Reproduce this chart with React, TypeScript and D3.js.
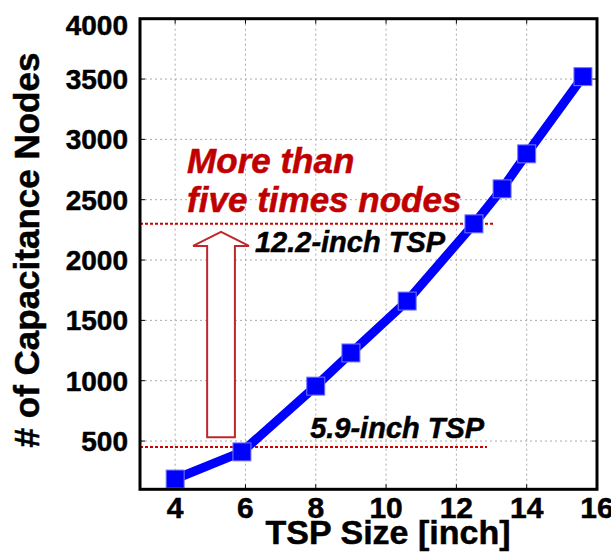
import React from "react";
import * as d3 from "d3";

const sizes = [4, 5.9, 8, 9, 10.6, 12.5, 13.3, 14, 15.6];
const nodes = [185, 410, 955, 1230, 1660, 2300, 2590, 2880, 3520];
const xTicks = [4, 6, 8, 10, 12, 14, 16];
const yTicks = [500, 1000, 1500, 2000, 2500, 3000, 3500, 4000];
const refLevels = [450, 2300];
const refEnds = [12.87, 13.07];

const W = 611, H = 559;
const FONT = "'Liberation Sans', Arial, sans-serif";

export default function App() {
  const x = d3.scaleLinear().domain([3, 16]).range([140, 597]);
  const y = d3.scaleLinear().domain([100, 4000]).range([489.3, 18.7]);
  const pts = sizes.map((s, i) => [s, nodes[i]] as [number, number]);
  const line = d3.line<[number, number]>().x(d => x(d[0])).y(d => y(d[1]));

  const ax0 = 4.91, ax1 = 5.70, hx0 = 4.51, hx1 = 6.10;
  const tipV = 2233, baseV = 2117, botV = 531;
  const arrowPath = `M${x(ax0)},${y(botV)} L${x(ax0)},${y(baseV)} L${x(hx0)},${y(baseV)} L${(x(hx0) + x(hx1)) / 2},${y(tipV)} L${x(hx1)},${y(baseV)} L${x(ax1)},${y(baseV)} L${x(ax1)},${y(botV)} Z`;

  const [x0, x1] = x.range();
  const [yb, yt] = y.range();
  const ms = 18;
  const heavy = { stroke: "currentColor", strokeWidth: 0.5 } as any;

  return (
    <svg width={W} height={H} style={{ position: "absolute", left: 0, top: 0 }} fontFamily={FONT}>
      <rect width={W} height={H} fill="#fff" />
      {xTicks.filter(t => t < 16).map(t => (
        <line key={"gx" + t} x1={x(t)} x2={x(t)} y1={yt} y2={yb} stroke="#aaa" strokeWidth={1} strokeDasharray="2,3" />
      ))}
      {yTicks.filter(t => t < 4000).map(t => (
        <line key={"gy" + t} x1={x0} x2={x1} y1={y(t)} y2={y(t)} stroke="#aaa" strokeWidth={1} strokeDasharray="2,3" />
      ))}
      {yTicks.map(t => (
        <g key={"ty" + t}>
          <line x1={x0} x2={x0 + 5} y1={y(t)} y2={y(t)} stroke="#000" strokeWidth={1} />
          <line x1={x1} x2={x1 - 5} y1={y(t)} y2={y(t)} stroke="#000" strokeWidth={1} />
        </g>
      ))}
      {xTicks.map(t => (
        <g key={"tx" + t}>
          <line x1={x(t)} x2={x(t)} y1={yb} y2={yb - 5} stroke="#000" strokeWidth={1} />
          <line x1={x(t)} x2={x(t)} y1={yt} y2={yt + 5} stroke="#000" strokeWidth={1} />
        </g>
      ))}
      {refLevels.map((v, i) => (
        <line key={"r" + v} x1={x0} x2={x(refEnds[i])} y1={y(v)} y2={y(v)} stroke="#cc0000" strokeWidth={2} strokeDasharray="3,2" />
      ))}
      <path d={arrowPath} fill="#fff" stroke="#c0272d" strokeWidth={2} />
      <path d={line(pts) || ""} fill="none" stroke="#0000ff" strokeWidth={9} strokeLinejoin="round" />
      {pts.map((p, i) => (
        <rect key={"m" + i} x={x(p[0]) - ms / 2} y={y(p[1]) - ms / 2} width={ms} height={ms} fill="#0000ff" stroke="#7777ff" strokeWidth={1} />
      ))}
      <rect x={x0} y={yt} width={x1 - x0} height={yb - yt} fill="none" stroke="#000" strokeWidth={3} />
      <g fill="#000" color="#000">
        {yTicks.map(t => (
          <text key={"ly" + t} x={128} y={Math.max(y(t), 25)} dy="0.36em" textAnchor="end" fontSize={28} fontWeight="bold" {...heavy}>{t}</text>
        ))}
        {xTicks.map(t => (
          <text key={"lx" + t} x={x(t)} y={518} textAnchor="middle" fontSize={30} fontWeight="bold" {...heavy}>{t}</text>
        ))}
        <text x={388} y={544} textAnchor="middle" fontSize={34} fontWeight="bold" {...heavy}>TSP Size [inch]</text>
        <text transform={`translate(39,250) rotate(-90)`} textAnchor="middle" fontSize={35} fontWeight="bold" {...heavy}># of Capacitance Nodes</text>
      </g>
      <text x={x(4.34)} y={y(2719)} fontSize={35} fontWeight="bold" fontStyle="italic" fill="#c00000" color="#c00000" {...heavy}>
        <tspan x={x(4.34)}>More than</tspan>
        <tspan x={x(4.34)} dy={39}>five times nodes</tspan>
      </text>
      <g color="#000">
        <text x={x(6.27)} y={y(2064)} fontSize={29} fontWeight="bold" fontStyle="italic" fill="#000" {...heavy}>12.2-inch TSP</text>
        <text x={x(7.84)} y={y(523)} fontSize={29} fontWeight="bold" fontStyle="italic" fill="#000" {...heavy}>5.9-inch TSP</text>
      </g>
    </svg>
  );
}
